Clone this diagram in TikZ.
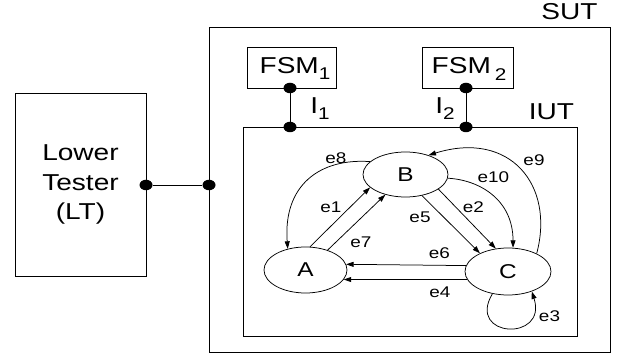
\documentclass[tikz,border=0pt]{standalone}
\usepackage{fontspec}
\setmainfont[FakeStretch=1.22]{Liberation Sans}
\usetikzlibrary{arrows.meta,shapes.geometric}
\newcommand{\mysub}[2]{\raisebox{#1}{\fontsize{17}{17}\selectfont #2}}
\tikzset{
  box/.style={draw, rectangle, line width=0.9pt, inner sep=0pt},
  dot/.style={fill, ellipse, minimum width=13pt, minimum height=10.5pt, inner sep=0pt},
  state/.style={draw, ellipse, line width=0.75pt, inner sep=0pt, font=\fontsize{20}{24}\selectfont},
  big/.style={font=\fontsize{23}{29.5}\selectfont, inner sep=0pt},
  elabel/.style={font=\fontsize{15.5}{18}\selectfont, inner sep=0pt},
  wire/.style={line width=0.9pt},
  edge/.style={line width=0.75pt, -{Triangle[length=7.5pt,width=5pt]}},
}
\begin{document}
\begin{tikzpicture}[x=1pt,y=-1pt]
\useasboundingbox (0,0) rectangle (622,358);
% boxes
\node[box, minimum width=401pt, minimum height=325pt] (SUT) at (409.5,189.5) {};
\node[box, minimum width=334pt, minimum height=209pt] (IUT) at (410,231.5) {};
\node[box, big, align=center, minimum width=131pt, minimum height=183pt] (LT) at (80.5,184.5) {Lower\\Tester\\(LT)};
\node[box, minimum width=89pt, minimum height=41pt] (F1) at (292,67.8) {};
\node[box, minimum width=91pt, minimum height=41pt] (F2) at (467.5,67.8) {};
% texts
\node[big, anchor=base] (sutl) at (569.5,20) {SUT};
\node[big, anchor=base] (iutl) at (551.5,120) {IUT};
\node[big, anchor=base] (f1l) at (295,73.5) {FSM\mysub{-6.5pt}{1}};
\node[big, anchor=base] (f2l) at (469,73.5) {FSM\,\mysub{-7pt}{2}};
\node[big, anchor=base] (i1l) at (320,113.5) {I\mysub{-6pt}{1}};
\node[big, anchor=base] (i2l) at (445,114) {I\mysub{-6pt}{2}};
% dots and wires
\node[dot] (d1) at (146,185) {};
\node[dot] (d2) at (209,185) {};
\node[dot] (d3) at (290,88) {};
\node[dot] (d4) at (290,127) {};
\node[dot] (d5) at (466,88) {};
\node[dot] (d6) at (466,127) {};
\draw[wire] (d1) -- (d2);
\draw[wire] (d3) -- (d4);
\draw[wire] (d5) -- (d6);
% states
\node[state, minimum width=83pt, minimum height=46pt] (A) at (305.5,270) {A};
\node[state, minimum width=85pt, minimum height=45pt] (B) at (405.5,174.5) {B};
\node[state, minimum width=86pt, minimum height=47pt] (C) at (508,271.5) {C};
% transitions
\draw[edge] (B.160) .. controls (320,158) and (283,185) .. (A.130);
\draw[edge] (C.32) .. controls (555,185) and (510,130) .. (B.40);
\draw[edge] (B.355) .. controls (480,180) and (513,200) .. (C.78);
\draw[edge] (A.79) -- (B.200);
\draw[edge] (A.42) -- (B.225);
\draw[edge] (B.308) -- (C.147);
\draw[edge] (B.336) -- (C.118);
\draw[edge] (C.172) -- (A.8);
\draw[edge] (C.191) -- (A.346);
\draw[edge] (C.235) .. controls (466,338) and (548,342) .. (C.320);
% labels
\node[elabel] (l8) at (336,157.8) {e8};
\node[elabel] (l9) at (534,160.5) {e9};
\node[elabel] (l10) at (493.3,177.5) {e10};
\node[elabel] (l1) at (331,207) {e1};
\node[elabel] (l2) at (473.5,207) {e2};
\node[elabel] (l5) at (420,217) {e5};
\node[elabel] (l7) at (361,242.5) {e7};
\node[elabel] (l6) at (439.5,253) {e6};
\node[elabel] (l4) at (440,292.5) {e4};
\node[elabel] (l3) at (549.5,316) {e3};
\end{tikzpicture}
\end{document}
